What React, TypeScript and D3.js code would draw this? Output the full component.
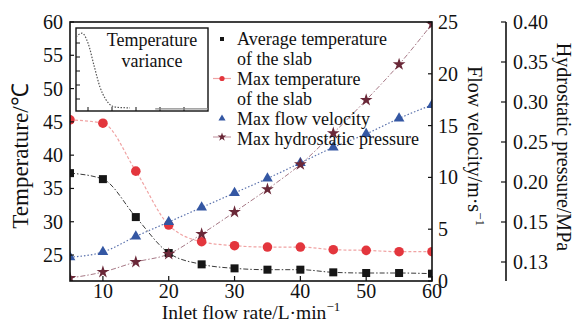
import * as d3 from 'd3'

// Inlet flow rate (L/min) and the four measured series
const flowRate = [5, 10, 15, 20, 25, 30, 35, 40, 45, 50, 55, 60]
const avgTemp = [37.3, 36.4, 30.7, 25.3, 23.6, 23.0, 22.8, 22.8, 22.4, 22.3, 22.3, 22.2]
const maxTemp = [45.3, 44.8, 37.6, 29.5, 27.0, 26.4, 26.2, 26.2, 25.8, 25.7, 25.5, 25.5]
const maxVelocity = [2.3, 2.8, 4.3, 5.7, 7.1, 8.5, 9.9, 11.4, 12.9, 14.2, 15.7, 17.0]
const maxPressure = [0.122, 0.125, 0.13, 0.134, 0.144, 0.1625, 0.191, 0.222, 0.261, 0.3025, 0.347, 0.3975]

// inset: temperature variance
const varianceX = [5, 7.5, 10, 12.5, 15, 17.5, 20, 22.5, 25, 27.5]
const varianceY = [5.45, 5.7, 5.0, 3.4, 1.85, 0.95, 0.5, 0.4, 0.38, 0.36]
const varianceTailX = [38, 60]
const varianceTailY = [0.3, 0.3]

const flowTicks = [10, 20, 30, 40, 50, 60]
const tempTicks = [25, 30, 35, 40, 45, 50, 55, 60]
const velocityTicks = [0, 5, 10, 15, 20, 25]
const pressureTicks = [0.13, 0.15, 0.2, 0.25, 0.3, 0.35, 0.4]
const insetXTicks = [10, 20, 30, 40, 50]
const insetYTicks = [1, 2, 3, 4, 5]

const legendLabels = [
  ['Average temperature', 'of the slab'],
  ['Max temperature', 'of the slab'],
  ['Max flow velocity'],
  ['Max hydrostatic pressure']
]

const FONT = '"Liberation Serif", "Times New Roman", serif'

export default function App() {
  const W = 576
  const H = 322
  const m = { left: 70, right: 432, top: 22, bottom: 281 }
  const pressureAxisX = 506

  const x = d3.scaleLinear().domain([5, 60]).range([m.left, m.right])
  const yT = d3.scaleLinear().domain([21.1, 60]).range([m.bottom, m.top])
  const yV = d3.scaleLinear().domain([0, 25]).range([m.bottom, m.top])
  const yP = d3.scaleLinear().domain([0.1205, 0.15, 0.4]).range([m.bottom, 222, m.top])

  const inset = { left: 76, right: 208, top: 28, bottom: 111 }
  const ix = d3.scaleLinear().domain([5, 60]).range([inset.left, inset.right])
  const iy = d3.scaleLinear().domain([0, 6]).range([113, 29])

  const pts = (ys: number[], yScale: (v: number) => number) =>
    flowRate.map((f, i) => [x(f), yScale(ys[i])] as [number, number])

  const smooth = d3.line().curve(d3.curveMonotoneX)

  const avgPts = pts(avgTemp, yT)
  const maxPts = pts(maxTemp, yT)
  const velPts = pts(maxVelocity, yV)
  const presPts = pts(maxPressure, yP)

  const insetPts = varianceX.map((v, i) => [ix(v), iy(varianceY[i])] as [number, number])
  const insetTail = varianceTailX.map((v, i) => [ix(v), iy(varianceTailY[i])] as [number, number])

  const tri = d3.symbol(d3.symbolTriangle, 50)()
  const triSmall = d3.symbol(d3.symbolTriangle, 22)()
  const star = d3.symbol(d3.symbolStar, 50)()
  const starSmall = d3.symbol(d3.symbolStar, 24)()

  const cBlack = '#161616'
  const cRed = '#e3363d'
  const cBlue = '#3457a3'
  const cStar = '#6a2838'

  const tickText = { fontFamily: FONT, fontSize: 20, fill: '#111' }

  const legendX = 222
  const legendBase = [45, 84.5, 124.5, 145]

  return (
    <svg
      width={W}
      height={H}
      style={{ position: 'absolute', left: 0, top: 0, background: '#fff' }}
    >
      <defs>
        <clipPath id="plotClip">
          <rect x={m.left} y={m.top} width={m.right - m.left} height={m.bottom - m.top} />
        </clipPath>
      </defs>

      {/* curves */}
      <g clipPath="url(#plotClip)" fill="none">
        <path d={smooth(avgPts) || ''} stroke="#3a3a3a" strokeWidth={1} strokeDasharray="5,2,1.5,2" />
        <path d={smooth(maxPts) || ''} stroke="#f0a3a3" strokeWidth={1.2} strokeDasharray="3,2" />
        <path d={smooth(velPts) || ''} stroke="#5b72ad" strokeWidth={1.2} strokeDasharray="1.5,2" />
        <path d={smooth(presPts) || ''} stroke="#a77986" strokeWidth={1} strokeDasharray="5,2,1.5,2" />
      </g>

      {/* markers */}
      <g clipPath="url(#plotClip)">
        {avgPts.map(([px, py], i) => (
          <rect key={'a' + i} x={px - 4} y={py - 4} width={8} height={8} fill={cBlack} />
        ))}
        {maxPts.map(([px, py], i) => (
          <circle key={'m' + i} cx={px} cy={py} r={4.8} fill={cRed} />
        ))}
        {velPts.map(([px, py], i) => (
          <path key={'v' + i} d={tri || ''} transform={`translate(${px},${py})`} fill={cBlue} />
        ))}
        {presPts.map(([px, py], i) => (
          <path key={'p' + i} d={star || ''} transform={`translate(${px},${py})`} fill={cStar} />
        ))}
      </g>

      {/* frame */}
      <rect
        x={m.left}
        y={m.top}
        width={m.right - m.left}
        height={m.bottom - m.top}
        fill="none"
        stroke="#111"
        strokeWidth={1.6}
      />

      {/* bottom axis */}
      {flowTicks.map(t => (
        <g key={'fx' + t}>
          <line x1={x(t)} x2={x(t)} y1={m.bottom} y2={m.bottom - 5} stroke="#111" strokeWidth={1.2} />
          <text x={x(t)} y={298} textAnchor="middle" {...tickText}>{t}</text>
        </g>
      ))}
      <text x={251} y={319} textAnchor="middle" fontFamily={FONT} fontSize={19.5} fill="#111">
        Inlet flow rate/L·min<tspan dy={-8} fontSize={13}>−1</tspan>
      </text>

      {/* left axis */}
      {tempTicks.map(t => (
        <g key={'tl' + t}>
          <line x1={m.left} x2={m.left + 4} y1={yT(t)} y2={yT(t)} stroke="#111" strokeWidth={1.2} />
          <text x={63} y={yT(t)} dy="0.35em" textAnchor="end" {...tickText}>{t}</text>
        </g>
      ))}
      <text
        transform={`translate(28,156) rotate(-90)`}
        textAnchor="middle"
        fontFamily={FONT}
        fontSize={23}
        fill="#111"
      >
        Temperature/℃
      </text>

      {/* right axis: flow velocity */}
      {velocityTicks.map(t => (
        <g key={'v' + t}>
          <line x1={m.right} x2={m.right - 4} y1={yV(t)} y2={yV(t)} stroke="#111" strokeWidth={1.2} />
          <text x={438} y={yV(t)} dy="0.35em" textAnchor="start" {...tickText}>{t}</text>
        </g>
      ))}
      <text
        transform={`translate(468,146) rotate(90)`}
        textAnchor="middle"
        fontFamily={FONT}
        fontSize={20}
        fill="#111"
      >
        Flow velocity/m·s<tspan dy={-8} fontSize={13}>−1</tspan>
      </text>

      {/* second right axis: hydrostatic pressure */}
      <line x1={pressureAxisX} x2={pressureAxisX} y1={m.top} y2={m.bottom} stroke="#111" strokeWidth={1.6} />
      {pressureTicks.map(t => (
        <g key={'p' + t}>
          <line x1={pressureAxisX} x2={pressureAxisX - 5} y1={yP(t)} y2={yP(t)} stroke="#111" strokeWidth={1.2} />
          <text x={513} y={yP(t)} dy="0.35em" textAnchor="start" {...tickText}>{t.toFixed(2)}</text>
        </g>
      ))}
      <text
        transform={`translate(557,147) rotate(90)`}
        textAnchor="middle"
        fontFamily={FONT}
        fontSize={20}
        fill="#111"
      >
        Hydrostatic pressure/MPa
      </text>

      {/* inset */}
      <rect
        x={inset.left}
        y={inset.top}
        width={inset.right - inset.left}
        height={inset.bottom - inset.top}
        fill="#fff"
        stroke="#111"
        strokeWidth={1.4}
      />
      {insetXTicks.map(t => (
        <line key={'ix' + t} x1={ix(t)} x2={ix(t)} y1={inset.bottom} y2={inset.bottom - 4} stroke="#111" strokeWidth={1} />
      ))}
      {insetYTicks.map(t => (
        <line key={'iy' + t} x1={inset.left} x2={inset.left + 4} y1={iy(t)} y2={iy(t)} stroke="#111" strokeWidth={1} />
      ))}
      <path
        d={d3.line().curve(d3.curveMonotoneX)(insetPts) || ''}
        fill="none"
        stroke="#555"
        strokeWidth={1.2}
        strokeDasharray="1.5,1.5"
      />
      <path d={d3.line()(insetTail) || ''} fill="none" stroke="#888" strokeWidth={1.2} />
      <text x={152} y={46} textAnchor="middle" fontFamily={FONT} fontSize={18} fill="#111">Temperature</text>
      <text x={152} y={67} textAnchor="middle" fontFamily={FONT} fontSize={18} fill="#111">variance</text>

      {/* legend */}
      <g fontFamily={FONT} fontSize={18} fill="#111">
        {legendLabels.map((lines, i) => (
          <text key={'lg' + i} x={237} y={legendBase[i]}>
            {lines.map((s, j) => (
              <tspan key={j} x={237} dy={j === 0 ? 0 : 20}>{s}</tspan>
            ))}
          </text>
        ))}
      </g>
      <rect x={legendX - 2} y={legendBase[0] - 8} width={4} height={4} fill={cBlack} />
      <line x1={legendX - 9} x2={legendX + 9} y1={legendBase[1] - 6} y2={legendBase[1] - 6} stroke="#f0a3a3" strokeWidth={1.2} />
      <circle cx={legendX} cy={legendBase[1] - 6} r={2.6} fill={cRed} />
      <path d={triSmall || ''} transform={`translate(${legendX},${legendBase[2] - 6})`} fill={cBlue} />
      <line x1={legendX - 9} x2={legendX + 9} y1={legendBase[3] - 8} y2={legendBase[3] - 8} stroke="#c9a0aa" strokeWidth={1.2} />
      <path d={starSmall || ''} transform={`translate(${legendX},${legendBase[3] - 8})`} fill={cStar} />
    </svg>
  )
}
